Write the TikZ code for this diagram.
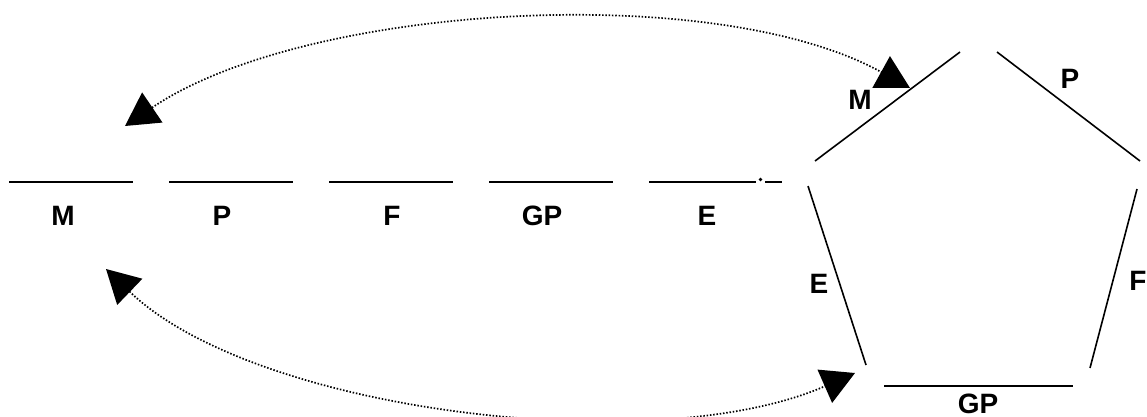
\documentclass[tikz,border=0pt]{standalone}
\usepackage{fontspec}
\setmainfont{Liberation Sans}
\usetikzlibrary{arrows.meta}
\tikzset{
  lbl/.style={font=\fontsize{28}{30}\selectfont\bfseries, inner sep=0pt, text height=20pt, text depth=0pt, anchor=center},
  blank/.style={line width=1.5pt},
  side/.style={line width=1.6pt},
  link/.style={line width=1.7pt, dash pattern=on 1.5pt off 1.8pt, {Triangle[length=33pt,width=36pt]}-{Triangle[length=33pt,width=36pt]}}
}
\begin{document}
\begin{tikzpicture}[x=1pt,y=-1pt]
\useasboundingbox (0,0) rectangle (1147,417);
% blanks
\coordinate (b1a) at (9,182);   \coordinate (b1b) at (133,182);
\coordinate (b2a) at (169,182); \coordinate (b2b) at (293,182);
\coordinate (b3a) at (329,182); \coordinate (b3b) at (453,182);
\coordinate (b4a) at (489,182); \coordinate (b4b) at (613,182);
\coordinate (b5a) at (649,182); \coordinate (b5b) at (756,182);
\coordinate (b6a) at (765,182); \coordinate (b6b) at (782,182);
\draw[blank] (b1a) -- (b1b);
\draw[blank] (b2a) -- (b2b);
\draw[blank] (b3a) -- (b3b);
\draw[blank] (b4a) -- (b4b);
\draw[blank] (b5a) -- (b5b);
\draw[blank] (b6a) -- (b6b);
\fill (760.5,179.5) circle (1.8);
% labels under blanks
\node[lbl] (lm) at (63,215) {M};
\node[lbl] (lp) at (222,215) {P};
\node[lbl] (lf) at (392,215) {F};
\node[lbl] (lgp) at (542,215) {GP};
\node[lbl] (le) at (707,215) {E};
% pentagon sides
\coordinate (m1) at (815,161);  \coordinate (m2) at (960,52);
\coordinate (p1) at (997,52);   \coordinate (p2) at (1140,161);
\coordinate (f1) at (1137,189); \coordinate (f2) at (1090,368);
\coordinate (g1) at (884,386);  \coordinate (g2) at (1073,386);
\coordinate (e1) at (808,186);  \coordinate (e2) at (866,365);
\draw[side] (m1) -- (m2);
\draw[side] (p1) -- (p2);
\draw[side] (f1) -- (f2);
\draw[side] (g1) -- (g2);
\draw[side] (e1) -- (e2);
\node[lbl] (pm) at (860,100) {M};
\node[lbl] (pp) at (1070,79) {P};
\node[lbl] (pf) at (1138,280) {F};
\node[lbl] (pgp) at (978,403) {GP};
\node[lbl] (pe) at (819,283) {E};
% arrows
\coordinate (ta) at (125,126);
\coordinate (tb) at (910,88);
\coordinate (ba) at (106,269);
\coordinate (bb) at (855,373);
\draw[link] (ta) .. controls (305,4) and (715,-20) .. (tb);
\draw[link] (ba) .. controls (256,413) and (657,460) .. (bb);
\end{tikzpicture}
\end{document}
